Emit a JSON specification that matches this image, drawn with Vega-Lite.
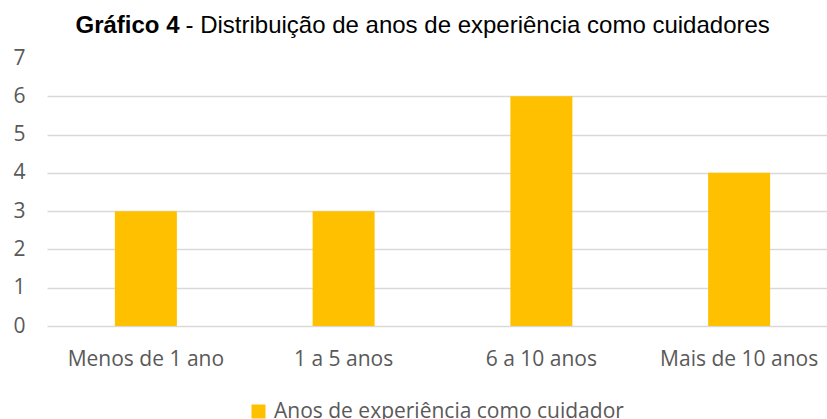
{
  "$schema": "https://vega.github.io/schema/vega-lite/v6.json",
  "width": 780,
  "height": 268,
  "autosize": "none",
  "padding": {"left": 47, "top": 58, "right": 0, "bottom": 93},
  "background": "white",
  "view": {"stroke": null},
  "data": {
    "values": [
      {"categoria": "Menos de 1 ano", "valor": 3, "serie": "Anos de experiência como cuidador"},
      {"categoria": "1 a 5 anos", "valor": 3, "serie": "Anos de experiência como cuidador"},
      {"categoria": "6 a 10 anos", "valor": 6, "serie": "Anos de experiência como cuidador"},
      {"categoria": "Mais de 10 anos", "valor": 4, "serie": "Anos de experiência como cuidador"}
    ]
  },
  "encoding": {
    "y": {
      "field": "valor",
      "type": "quantitative",
      "scale": {"domain": [0, 7], "nice": false},
      "axis": {
        "title": "Gráfico 4",
        "titleFont": "Liberation Sans",
        "titleFontSize": 24,
        "titleFontWeight": "bold",
        "titleColor": "#000000",
        "titleAngle": 0,
        "titleAlign": "left",
        "titleBaseline": "alphabetic",
        "titleAnchor": "start",
        "titleX": 28,
        "titleY": -26,
        "values": [0, 1, 2, 3, 4, 5, 6, 7],
        "labelOverlap": false,
        "ticks": false,
        "domain": false,
        "labelFont": "Open Sans",
        "labelFontSize": 21,
        "labelColor": "#595959",
        "labelPadding": 22,
        "gridColor": "#d9d9d9",
        "gridWidth": 1.3,
        "gridOpacity": {"condition": {"test": "datum.value == 7", "value": 0}, "value": 1}
      }
    }
  },
  "layer": [
    {
      "mark": {"type": "bar", "width": 62},
      "encoding": {
        "x": {
          "field": "categoria",
          "type": "nominal",
          "sort": null,
          "scale": {"range": [0, 791], "paddingInner": 0, "paddingOuter": 0},
          "axis": {
            "orient": "bottom",
            "title": null,
            "labelAngle": 0,
            "ticks": false,
            "domain": false,
            "labelFont": "Open Sans",
            "labelFontSize": 21,
            "labelColor": "#595959",
            "labelBaseline": "alphabetic",
            "labelPadding": 39,
            "labelLimit": 300
          }
        },
        "color": {
          "field": "serie",
          "type": "nominal",
          "scale": {"range": ["#FFC000"]},
          "legend": {
            "title": null,
            "orient": "none",
            "legendX": 201,
            "legendY": 343,
            "symbolType": "square",
            "symbolSize": 196,
            "symbolStrokeWidth": 0,
            "symbolOpacity": 1,
            "labelFont": "Open Sans",
            "labelFontSize": 21,
            "labelColor": "#595959",
            "labelOffset": 5,
            "labelLimit": 500,
            "padding": 0
          }
        }
      }
    },
    {
      "mark": {"type": "bar", "width": 62, "opacity": 0},
      "encoding": {
        "x": {
          "field": "categoria",
          "type": "nominal",
          "sort": null,
          "axis": {
            "orient": "top",
            "title": "- Distribuição de anos de experiência como cuidadores",
            "labels": false,
            "ticks": false,
            "domain": false,
            "grid": false,
            "titleFont": "Liberation Sans",
            "titleFontSize": 24,
            "titleFontWeight": "normal",
            "titleColor": "#000000",
            "titleAlign": "left",
            "titleBaseline": "alphabetic",
            "titleAnchor": "start",
            "titleX": 138,
            "titleY": -26
          }
        }
      }
    }
  ],
  "resolve": {"axis": {"x": "independent"}}
}
